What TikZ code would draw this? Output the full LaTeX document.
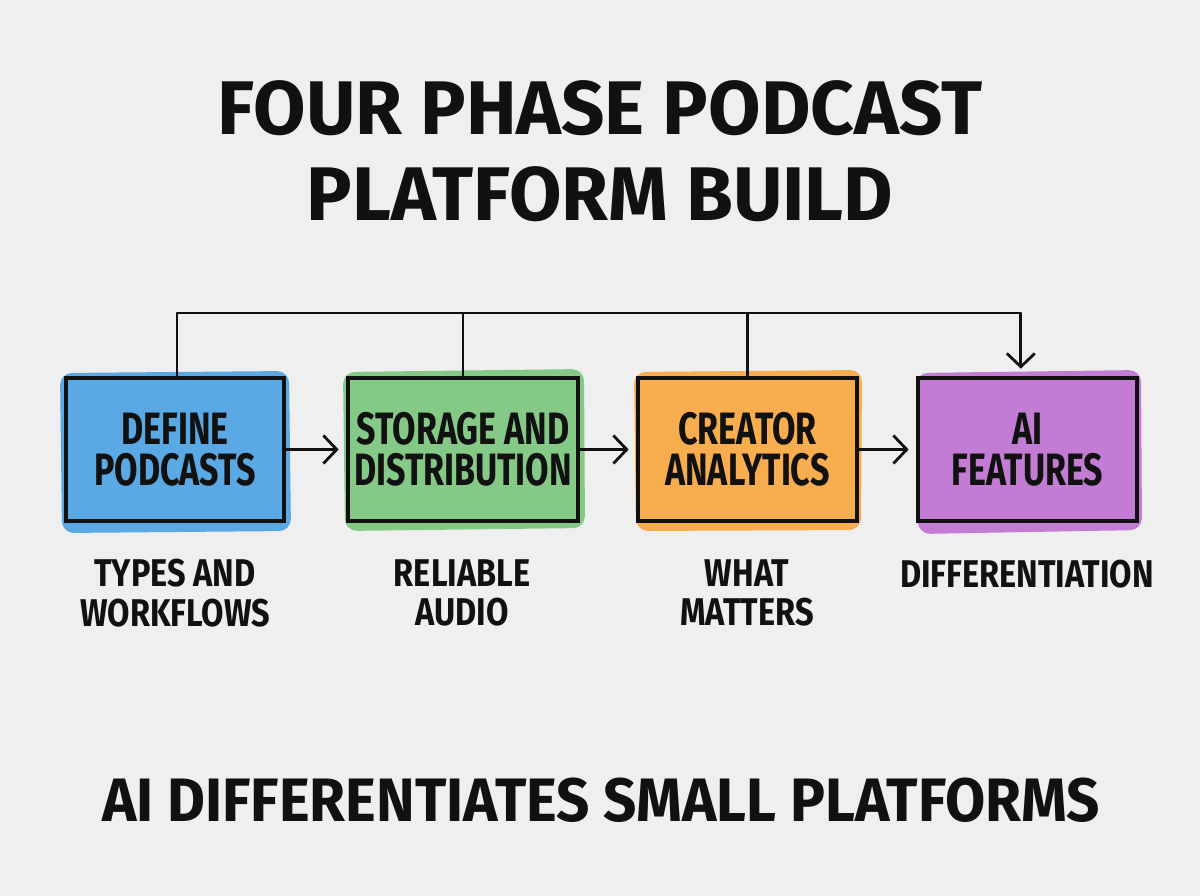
\documentclass[tikz,border=0pt]{standalone}
\usepackage{fontspec}
\setmainfont{Fira Sans}
\newfontfamily\condfont[FakeStretch=0.75]{Fira Sans}
\newfontfamily\labfont[FakeStretch=0.84]{Fira Sans}
\newfontfamily\botfont[FakeStretch=0.95]{Fira Sans}
\usetikzlibrary{arrows.meta}
\definecolor{bg}{HTML}{EFEFEF}
\definecolor{ink}{HTML}{111111}
\definecolor{cblue}{HTML}{5AA8E4}
\definecolor{cgreen}{HTML}{84CA86}
\definecolor{corange}{HTML}{F8AD4F}
\definecolor{cpurple}{HTML}{C27CD3}
\tikzset{
  phasebox/.style={draw=ink, line width=2.3pt, inner sep=0pt, outer sep=0pt,
    minimum height=107.25pt, align=center, text=ink,
    font=\condfont\bfseries\fontsize{34}{31}\selectfont},
  sublabel/.style={align=center, text=ink, inner sep=0pt,
    font=\labfont\bfseries\fontsize{29}{29.5}\selectfont},
  conn/.style={draw=ink, line width=2.1pt},
  arr/.style={conn, -{Straight Barb[length=10pt,width=21pt,line width=2.1pt]}},
  blob/.style={rounded corners=9pt}
}
\begin{document}
\begin{tikzpicture}[x=0.75pt,y=-0.75pt]
\fill[bg] (0,0) rectangle (1200,896);
\useasboundingbox (0,0) rectangle (1200,896);

% title
\node[text=ink, align=center, font=\bfseries\fontsize{57}{64}\selectfont] (title) at (600,151)
  {FOUR PHASE PODCAST\\PLATFORM BUILD};

% colour blobs
\fill[cblue, blob] (60,373) -- (289,371) -- (291,531) -- (62,533) -- cycle;
\fill[cgreen, blob] (343,372) -- (584,369) -- (585,528) -- (345,531) -- cycle;
\fill[corange, blob] (634,372) -- (862,370) -- (861,530) -- (636,531) -- cycle;
\fill[cpurple, blob] (916,373) -- (1141,370) -- (1142,530) -- (918,534) -- cycle;

% boxes
\node[phasebox, minimum width=163.5pt] (b1) at (175,449.5) {DEFINE\\PODCASTS};
\node[phasebox, minimum width=172.5pt] (b2) at (463,449.5) {STORAGE AND\\DISTRIBUTION};
\node[phasebox, minimum width=164.25pt] (b3) at (747.5,449.5) {CREATOR\\ANALYTICS};
\node[phasebox, minimum width=164.25pt] (b4) at (1027.5,449.5) {AI\\FEATURES};

% sub labels
\node[sublabel] (l1) at (175,593) {TYPES AND\\WORKFLOWS};
\node[sublabel] (l2) at (462,593) {RELIABLE\\AUDIO};
\node[sublabel] (l3) at (747,593) {WHAT\\MATTERS};
\node[sublabel, anchor=north] (l4) at (1027,560) {DIFFERENTIATION};

% flow arrows
\draw[arr, shorten >=7pt, shorten <=1pt] (b1.east) -- (b2.west);
\draw[arr, shorten >=7pt, shorten <=1pt] (b2.east) -- (b3.west);
\draw[arr, shorten >=7pt, shorten <=1pt] (b3.east) -- (b4.west);

% top bus
\coordinate (t1) at ([xshift=1.5pt]b1.north |- 0,313);
\coordinate (t4) at ([xshift=-5pt]b4.north |- 0,313);
\coordinate (e4) at ([xshift=-5pt]b4.north);
\draw[conn, line cap=round, line join=round] ([xshift=1.5pt]b1.north) -- (t1) -- (t4);
\draw[arr, shorten >=7pt] (t4) -- (e4);
\draw[conn] (b2.north) -- (b2.north |- t1);
\draw[conn] (b3.north) -- (b3.north |- t1);

% bottom line
\node[text=ink, font=\botfont\bfseries\fontsize{46}{50}\selectfont] (bottom) at (601,800)
  {AI DIFFERENTIATES SMALL PLATFORMS};
\end{tikzpicture}
\end{document}
